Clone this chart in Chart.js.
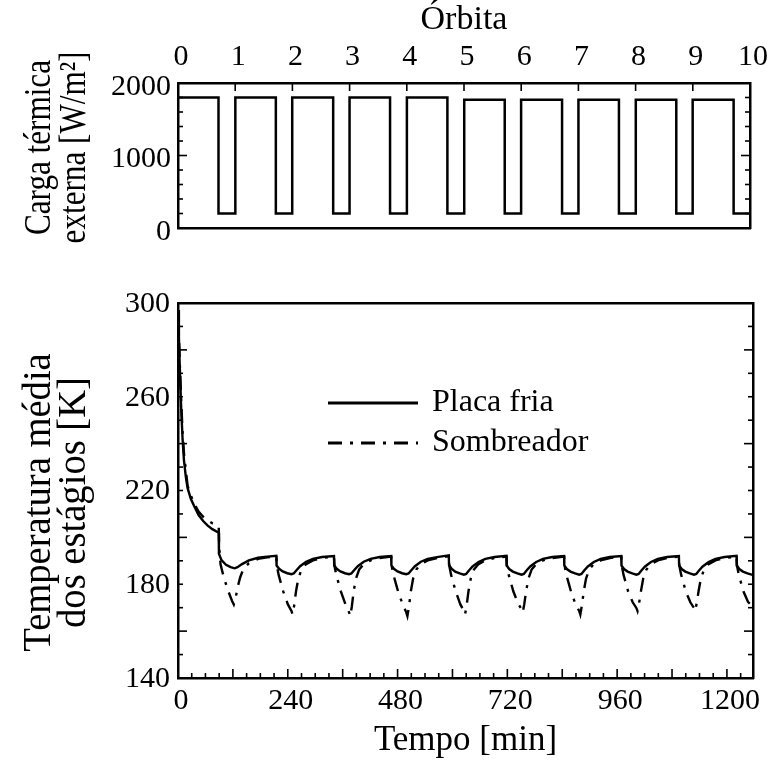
<!DOCTYPE html>
<html>
<head>
<meta charset="utf-8">
<script src="https://cdn.jsdelivr.net/npm/chart.js@4.4.1/dist/chart.umd.min.js"></script>
<style>
  body { margin: 0; background: #fff; }
  #wrap { position: relative; width: 776px; height: 762px; }
  canvas { position: absolute; left: 0; }
</style>
</head>
<body>
<div id="wrap">
  <canvas id="loadChart" width="776" height="250" style="top:0px"></canvas>
  <canvas id="tempChart" width="776" height="512" style="top:250px"></canvas>
</div>
<script>
/* ---------- data ---------- */
const orbitTicks = [0, 1, 2, 3, 4, 5, 6, 7, 8, 9, 10];
const timeTicks = [0, 240, 480, 720, 960, 1200];
const loadTicks = [0, 1000, 2000];
const tempTicks = [140, 180, 220, 260, 300];

// external heat load (square wave, sun / eclipse)
const loadTime = [0, 89, 89, 126, 126, 215, 215, 251, 251, 341, 341, 377, 377, 466, 466, 503, 503, 592, 592, 629,
  629, 718, 718, 754, 754, 844, 844, 880, 880, 969, 969, 1006, 1006, 1095, 1095, 1131, 1131, 1221, 1221, 1257];
const loadValue = [1800, 1800, 200, 200, 1800, 1800, 200, 200, 1800, 1800, 200, 200, 1800, 1800, 200, 200, 1800, 1800, 200, 200,
  1770, 1770, 200, 200, 1770, 1770, 200, 200, 1770, 1770, 200, 200, 1770, 1770, 200, 200, 1770, 1770, 200, 200];

// Placa fria
const placaTime = [0, 2, 4, 7, 10, 13, 17, 21, 28, 35, 45, 55, 65, 75, 89,
  89.5, 95, 105, 115, 124, 130, 140, 155, 175, 195,
  215, 215.5, 221, 229, 239, 248, 253, 259, 267, 280, 295, 315,
  341, 341.5, 347, 355, 365, 374, 379, 385, 393, 406, 421, 441,
  466, 466.5, 472, 480, 490, 499, 504, 510, 518, 531, 546, 566,
  592, 592.5, 598, 606, 616, 625, 630, 636, 644, 657, 672, 692,
  718, 718.5, 724, 732, 742, 751, 756, 762, 770, 783, 798, 818,
  844, 844.5, 850, 858, 868, 877, 882, 888, 896, 909, 924, 944,
  969, 969.5, 975, 983, 993, 1002, 1007, 1013, 1021, 1034, 1049, 1069,
  1095, 1095.5, 1101, 1109, 1119, 1128, 1133, 1139, 1147, 1160, 1175, 1195,
  1221, 1221.5, 1227, 1235, 1245, 1254, 1257];
const placaTemp = [297, 285, 272, 255, 242, 233, 226, 221, 216.5, 213.5, 209.5, 207, 205, 203.5, 202,
  193, 190.3, 188.3, 187.3, 186.8, 187.3, 188.6, 190.2, 191.3, 191.8,
  192.1, 188, 186.6, 185.5, 184.7, 184.3, 184.6, 186, 187.7, 189.6, 190.8, 191.6,
  192.0, 188, 186.6, 185.5, 184.7, 184.3, 184.6, 186, 187.7, 189.6, 190.8, 191.6,
  192.0, 188, 186.6, 185.5, 184.7, 184.3, 184.6, 186, 187.7, 189.6, 190.8, 191.6,
  192.3, 188.2, 186.6, 185.4, 184.6, 184.1, 184.4, 185.9, 187.6, 189.5, 190.8, 191.6,
  192.1, 188, 186.5, 185.4, 184.6, 184.1, 184.4, 185.9, 187.6, 189.5, 190.8, 191.6,
  192.0, 188, 186.5, 185.4, 184.6, 184.1, 184.4, 185.9, 187.6, 189.5, 190.8, 191.6,
  192.0, 188, 186.5, 185.4, 184.6, 184.1, 184.4, 185.9, 187.6, 189.5, 190.8, 191.6,
  192.0, 188, 186.5, 185.4, 184.6, 184.1, 184.4, 185.9, 187.6, 189.5, 190.8, 191.6,
  192.1, 188, 186.5, 185.4, 184.6, 184.1, 184.0];

// Sombreador
const sombTime = [0, 2, 4, 7, 10, 13, 17, 21, 28, 35, 45, 55, 65, 75, 89,
  90, 93, 100, 110, 118, 122, 126, 130, 136, 143, 155, 175, 195,
  215, 216, 220, 225, 230, 240, 248, 250.5, 254, 258, 263, 270, 280, 295, 315,
  341, 342, 346, 351, 356, 366, 374, 376.5, 380, 384, 389, 396, 406, 421, 441,
  466, 467, 471, 476, 481, 491, 499, 501.5, 505, 509, 514, 521, 531, 546, 566,
  592, 593, 597, 602, 607, 617, 625, 627.5, 631, 635, 640, 647, 657, 672, 692,
  718, 719, 723, 728, 733, 743, 751, 753.5, 757, 761, 766, 773, 783, 798, 818,
  844, 845, 849, 854, 859, 869, 877, 879.5, 883, 887, 892, 899, 909, 924, 944,
  969, 970, 974, 979, 984, 994, 1002, 1004.5, 1008, 1012, 1017, 1024, 1034, 1049, 1069,
  1095, 1096, 1100, 1105, 1110, 1120, 1128, 1130.5, 1134, 1138, 1143, 1150, 1160, 1175, 1195,
  1221, 1222, 1226, 1231, 1236, 1246, 1257];
const sombTemp = [297, 286, 274, 258, 245, 236, 229, 222, 218, 214.5, 211, 208.8, 207.3, 206, 204.8,
  196, 188.5, 183, 177, 173, 171.4, 174, 178.5, 183, 186.5, 189, 190.8, 191.5,
  191.8, 188, 184, 180.5, 177, 171.5, 168.6, 167.1, 171, 177, 182.4, 186.3, 188.6, 190.2, 191.2,
  191.8, 188, 184, 180.5, 177, 171.5, 168, 166.4, 170.5, 177, 182.4, 186.3, 188.6, 190.2, 191.2,
  191.8, 188, 184, 180.5, 177, 171.5, 168, 166.4, 170.5, 177, 182.4, 186.3, 188.6, 190.2, 191.2,
  192, 188, 184, 180.5, 177, 171.5, 168.6, 167.1, 171, 177, 182.4, 186.3, 188.6, 190.2, 191.2,
  191.8, 188, 184, 180.5, 177, 172, 169.3, 167.9, 171.5, 177, 182.4, 186.3, 188.6, 190.2, 191.2,
  191.8, 188, 184, 180.5, 177, 171.5, 168.6, 167.1, 171, 177, 182.4, 186.3, 188.6, 190.2, 191.2,
  191.8, 188, 184, 180.5, 177, 172.3, 169.9, 168.6, 172, 177, 182.4, 186.3, 188.6, 190.2, 191.2,
  191.8, 188, 184, 180.5, 177, 172.3, 169.9, 168.6, 172, 177, 182.4, 186.3, 188.6, 190.2, 191.2,
  191.8, 188, 184, 180.5, 177, 172.5, 170.5];

/* ---------- helpers ---------- */
const SERIF = "'Liberation Serif', 'Times New Roman', serif";
const toPoints = (xs, ys) => xs.map((x, i) => ({ x: x, y: ys[i] }));
const fixedTicks = (list) => (scale) => { scale.ticks = list.map(v => ({ value: v })); };
const frame = { display: true, width: 2.5, color: '#000' };
const noGrid = { drawOnChartArea: false, drawTicks: false };

// inward tick marks (major / minor) drawn from the chart scales
const tickMarks = {
  id: 'tickMarks',
  afterDraw(chart, args, opts) {
    const ctx = chart.ctx, a = chart.chartArea;
    ctx.save();
    ctx.strokeStyle = '#000';
    ctx.lineWidth = 1.6;
    (opts.marks || []).forEach(m => {
      const sc = chart.scales[m.scale];
      for (let v = sc.min; v <= sc.max + 1e-6; v += m.step) {
        const isMajor = m.majorStep && Math.abs(v / m.majorStep - Math.round(v / m.majorStep)) < 1e-6;
        const len = isMajor ? m.major : m.minor;
        const p = sc.getPixelForValue(v);
        ctx.beginPath();
        if (m.side === 'left') { ctx.moveTo(a.left, p); ctx.lineTo(a.left + len, p); }
        if (m.side === 'right') { ctx.moveTo(a.right, p); ctx.lineTo(a.right - len, p); }
        if (m.side === 'top') { ctx.moveTo(p, a.top); ctx.lineTo(p, a.top + len); }
        if (m.side === 'bottom') { ctx.moveTo(p, a.bottom); ctx.lineTo(p, a.bottom - len); }
        ctx.stroke();
      }
    });
    ctx.restore();
  }
};

// two-line rotated y-axis title (tall, narrow lettering like the original)
const sideTitle = {
  id: 'sideTitle',
  afterDraw(chart, args, opts) {
    if (!opts.lines) return;
    const ctx = chart.ctx, a = chart.chartArea;
    const cy = (a.top + a.bottom) / 2 + opts.shift;
    ctx.save();
    ctx.fillStyle = '#000';
    ctx.font = opts.size + 'px ' + SERIF;
    ctx.textAlign = 'center';
    ctx.textBaseline = 'middle';
    opts.lines.forEach((t, i) => {
      ctx.save();
      ctx.translate(opts.x + i * opts.gap, cy);
      ctx.rotate(-Math.PI / 2);
      ctx.scale(opts.squeeze, 1);
      ctx.fillText(t, 0, 0);
      ctx.restore();
    });
    ctx.restore();
  }
};

// legend inside the temperature panel
const legendBox = {
  id: 'legendBox',
  afterDraw(chart, args, opts) {
    if (!opts.items) return;
    const ctx = chart.ctx, a = chart.chartArea;
    ctx.save();
    opts.items.forEach((it, i) => {
      const y = a.top + opts.top + i * opts.gap;
      ctx.strokeStyle = '#000';
      ctx.lineWidth = 2.8;
      ctx.setLineDash(it.dash || []);
      ctx.beginPath();
      ctx.moveTo(a.left + opts.left, y);
      ctx.lineTo(a.left + opts.left + opts.len, y);
      ctx.stroke();
      ctx.setLineDash([]);
      ctx.fillStyle = '#000';
      ctx.font = opts.font;
      ctx.textBaseline = 'middle';
      ctx.fillText(it.text, a.left + opts.left + opts.len + 14, y);
    });
    ctx.restore();
  }
};

Chart.register(tickMarks, sideTitle, legendBox);

/* ---------- top panel: heat load ---------- */
new Chart(document.getElementById('loadChart'), {
  type: 'line',
  data: {
    datasets: [{
      data: toPoints(loadTime, loadValue),
      borderColor: '#000', borderWidth: 2.5, pointRadius: 0, fill: false
    }]
  },
  options: {
    responsive: false, animation: false, devicePixelRatio: 1,
    layout: { padding: 0 },
    plugins: {
      legend: { display: false }, tooltip: { enabled: false },
      tickMarks: {
        marks: [
          { scale: 'y', side: 'left', step: 200, majorStep: 1000, major: 9, minor: 5 },
          { scale: 'y', side: 'right', step: 200, majorStep: 1000, major: 9, minor: 5 },
          { scale: 'x2', side: 'top', step: 1, majorStep: 1, major: 8, minor: 8 }
        ]
      },
      sideTitle: { lines: ['Carga térmica', 'externa [W/m²]'], size: 38, squeeze: 0.82, x: 40, gap: 35, shift: -8 }
    },
    scales: {
      x: {
        type: 'linear', position: 'bottom', min: 0, max: 1257,
        grid: noGrid, border: frame, ticks: { display: false },
        afterFit: s => { s.height = 16; }
      },
      x2: {
        type: 'linear', position: 'top', min: 0, max: 10,
        grid: noGrid, border: frame,
        afterBuildTicks: fixedTicks(orbitTicks),
        ticks: { color: '#000', padding: 11, maxRotation: 0, autoSkip: false, labelOffset: 3,
                 font: { family: SERIF, size: 30, lineHeight: 1 }, callback: v => String(v) },
        title: { display: true, text: 'Órbita', color: '#000', padding: { top: 3, bottom: 0 },
                 font: { family: SERIF, size: 34, lineHeight: 1 } },
        afterFit: s => { s.height = 83; }
      },
      y: {
        type: 'linear', position: 'left', min: 0, max: 2000,
        grid: noGrid, border: frame,
        afterBuildTicks: fixedTicks(loadTicks),
        ticks: { color: '#000', padding: 7, labelOffset: 4,
                 font: { family: SERIF, size: 30, lineHeight: 1 }, callback: v => String(v) },
        afterFit: s => { s.width = 178; }
      },
      y2: {
        type: 'linear', position: 'right', min: 0, max: 2000,
        grid: noGrid, border: frame, ticks: { display: false },
        afterFit: s => { s.width = 23; }
      }
    }
  }
});

/* ---------- bottom panel: temperatures ---------- */
new Chart(document.getElementById('tempChart'), {
  type: 'line',
  data: {
    datasets: [
      {
        label: 'Placa fria',
        data: toPoints(placaTime, placaTemp),
        borderColor: '#000', borderWidth: 2.4, pointRadius: 0, fill: false
      },
      {
        label: 'Sombreador',
        data: toPoints(sombTime, sombTemp),
        borderColor: '#000', borderWidth: 2.4, pointRadius: 0, fill: false,
        borderDash: [14, 8, 3, 8]
      }
    ]
  },
  options: {
    responsive: false, animation: false, devicePixelRatio: 1,
    layout: { padding: 0 },
    plugins: {
      legend: { display: false }, tooltip: { enabled: false },
      tickMarks: {
        marks: [
          { scale: 'y', side: 'left', step: 10, majorStep: 40, major: 9, minor: 5 },
          { scale: 'y', side: 'right', step: 10, majorStep: 40, major: 9, minor: 5 },
          { scale: 'x', side: 'bottom', step: 30, majorStep: 120, major: 9, minor: 5 }
        ]
      },
      sideTitle: { lines: ['Temperatura média', 'dos estágios [K]'], size: 39, squeeze: 0.99, x: 40, gap: 35, shift: 12 },
      legendBox: {
        left: 150, top: 100, gap: 40, len: 90,
        font: '32px ' + SERIF,
        items: [
          { text: 'Placa fria' },
          { text: 'Sombreador', dash: [14, 8, 3, 8] }
        ]
      }
    },
    scales: {
      x: {
        type: 'linear', position: 'bottom', min: 0, max: 1257,
        grid: noGrid, border: frame,
        afterBuildTicks: fixedTicks(timeTicks),
        ticks: { color: '#000', padding: 8, maxRotation: 0, autoSkip: false, labelOffset: 3,
                 font: { family: SERIF, size: 30, lineHeight: 1 }, callback: v => String(v) },
        title: { display: true, text: 'Tempo [min]', color: '#000', padding: { top: 0, bottom: 4 },
                 font: { family: SERIF, size: 35, lineHeight: 1 } },
        afterFit: s => { s.height = 84; }
      },
      x2: {
        type: 'linear', position: 'top', min: 0, max: 1257,
        grid: noGrid, border: frame, ticks: { display: false },
        afterFit: s => { s.height = 53; }
      },
      y: {
        type: 'linear', position: 'left', min: 140, max: 300,
        grid: noGrid, border: frame,
        afterBuildTicks: fixedTicks(tempTicks),
        ticks: { color: '#000', padding: 8, labelOffset: 1,
                 font: { family: SERIF, size: 30, lineHeight: 1 }, callback: v => String(v) },
        afterFit: s => { s.width = 178; }
      },
      y2: {
        type: 'linear', position: 'right', min: 140, max: 300,
        grid: noGrid, border: frame, ticks: { display: false },
        afterFit: s => { s.width = 23; }
      }
    }
  }
});
</script>
</body>
</html>
